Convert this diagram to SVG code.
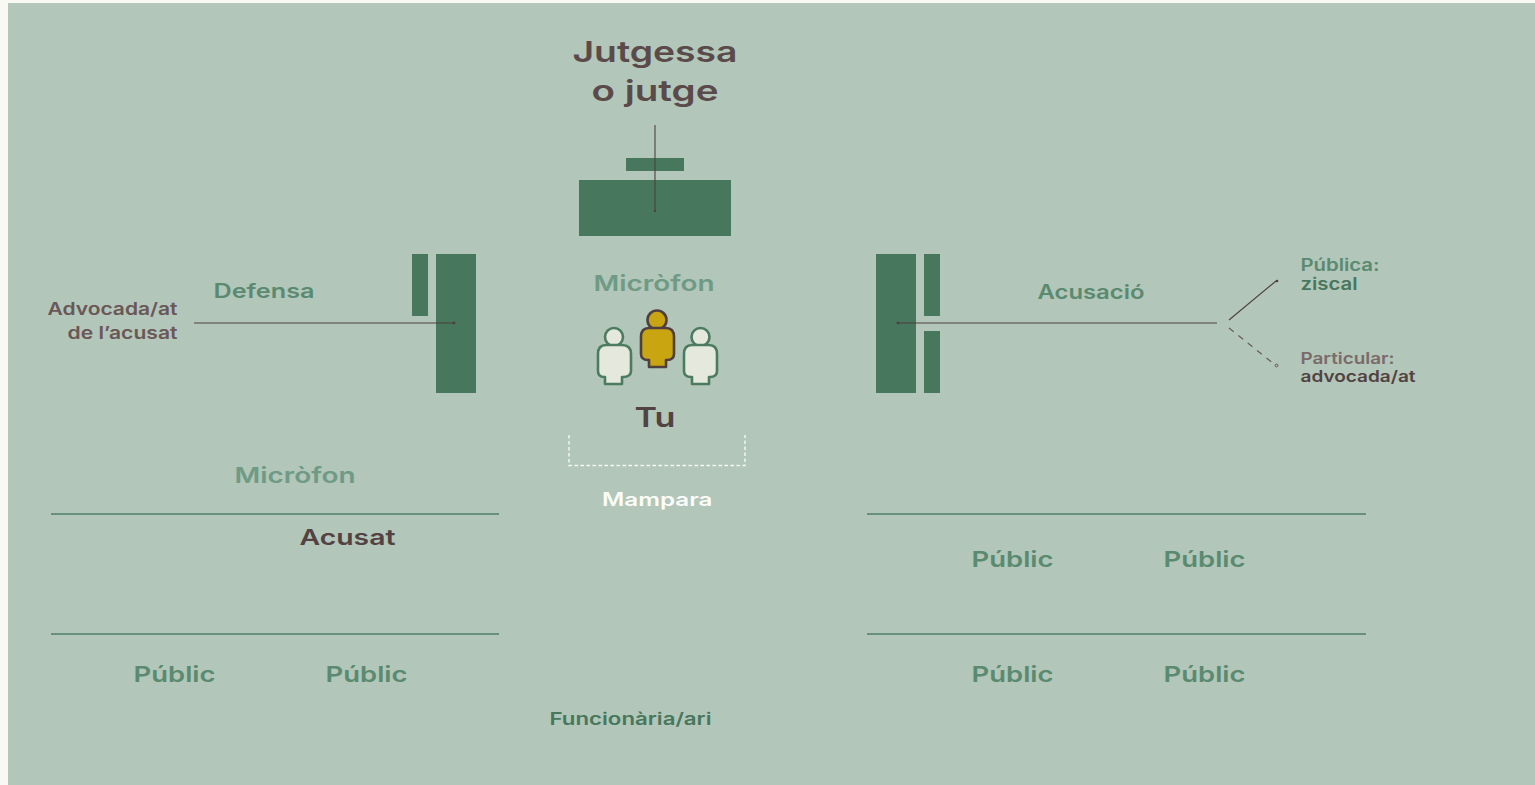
<svg xmlns="http://www.w3.org/2000/svg" width="1535" height="785" viewBox="0 0 1535 785">
<style>
text{font-family:"Inter","Liberation Sans",sans-serif;font-weight:600}
.g{fill:#5a8a70}.lg{fill:#6f9a85}.d{fill:#534242}.m{fill:#6a5757}.dg{fill:#47775c}
.bar{fill:#47775c}
.rule{stroke:#4f8065;stroke-width:1.3;fill:none}
.lead{stroke:#4f4040;stroke-width:1.1;fill:none}
.bust{stroke-width:2.6;stroke-linejoin:round}
</style>
<rect width="1535" height="785" fill="#f8f9f4"/>
<rect x="8" y="3" width="1527" height="782" fill="#b2c6b9"/>
<g id="judge-bench"><rect class="bar" x="626" y="158" width="58" height="13"/><rect class="bar" x="579" y="180" width="152" height="56"/></g>
<g id="defense-desk"><rect class="bar" x="412" y="254" width="16" height="62"/><rect class="bar" x="436" y="254" width="40" height="139"/></g>
<g id="prosecution-desk"><rect class="bar" x="876" y="254" width="40" height="139"/><rect class="bar" x="924" y="254" width="16" height="62"/><rect class="bar" x="924" y="331" width="16" height="62"/></g>
<g id="connectors">
<path class="lead" d="M655 125V211"/>
<circle cx="655" cy="211" r="1.2" fill="#4f4040"/>
<path class="lead" d="M194 323H454"/><circle cx="454" cy="323" r="1.4" fill="#4f4040"/>
<path class="lead" d="M897 323H1217"/><circle cx="898" cy="323" r="1.4" fill="#4f4040"/>
<path class="lead" d="M1229 320L1276 281"/><circle cx="1277" cy="281" r="1.3" fill="#4f4040"/>
<path class="lead" stroke-dasharray="6 6" stroke-width=".8" stroke-opacity=".8" d="M1229 328L1274 364"/><circle cx="1276.500" cy="365.500" r="1.400" fill="none" stroke="#4f4040" stroke-width=".8"/>
<path d="M569 435V465.500H745V435" fill="none" stroke="#f8faf5" stroke-width="1.400" stroke-dasharray="3.500 2.500"/>
<path class="rule" d="M51 514H499M51 634H499M867 514H1366M867 634H1366"/>
</g>
<g id="person-left"><circle class="bust" cx="614" cy="337" r="9" fill="#e5e9dd" stroke="#4c7c60"/><path class="bust" fill="#e5e9dd" stroke="#4c7c60" d="M606 345H622Q631 345 631 354V371Q631 377 623 377H622V384H605V377H604Q598 377 598 371V354Q598 345 606 345Z"/></g>
<g id="person-right"><circle class="bust" cx="700.500" cy="337" r="9" fill="#e5e9dd" stroke="#4c7c60"/><path class="bust" fill="#e5e9dd" stroke="#4c7c60" d="M692 345H709Q717 345 717 354V371Q717 377 710 377H709V384H692V377H691Q684 377 684 371V354Q684 345 692 345Z"/></g>
<g id="person-you"><circle class="bust" cx="657" cy="320" r="9.500" fill="#c9a512" stroke="#4f3f3f"/><path class="bust" fill="#c9a512" stroke="#4f3f3f" d="M649 328H666Q674 328 674 337V354Q674 360 667 360H666V367H649V360H648Q641 360 641 354V337Q641 328 649 328Z"/></g>
<g id="labels">
<text style="fill:#5b4a4a" font-size="29" x="572.500" y="62" textLength="165" lengthAdjust="spacingAndGlyphs">Jutgessa</text>
<text style="fill:#5b4a4a" font-size="29" x="591.500" y="101" textLength="127" lengthAdjust="spacingAndGlyphs">o jutge</text>
<text class="lg" font-size="22" x="593.500" y="291" textLength="121" lengthAdjust="spacingAndGlyphs">Micròfon</text>
<text class="d" font-size="27" x="634.500" y="427" textLength="41" lengthAdjust="spacingAndGlyphs">Tu</text>
<text font-size="18" fill="#fbfcf8" x="602" y="506" textLength="110.500" lengthAdjust="spacingAndGlyphs">Mampara</text>
<text class="g" font-size="20" x="213.500" y="297.500" textLength="101" lengthAdjust="spacingAndGlyphs">Defensa</text>
<text class="m" font-size="17" x="47.500" y="315" textLength="130" lengthAdjust="spacingAndGlyphs">Advocada/at</text>
<text class="m" font-size="17" x="67.500" y="339" textLength="110" lengthAdjust="spacingAndGlyphs">de l’acusat</text>
<text class="g" font-size="20" x="1037.500" y="299" textLength="107" lengthAdjust="spacingAndGlyphs">Acusació</text>
<text class="g" font-size="17" x="1300.500" y="271" textLength="79" lengthAdjust="spacingAndGlyphs">Pública:</text>
<text class="dg" font-size="17" x="1300.500" y="290" textLength="57" lengthAdjust="spacingAndGlyphs">ziscal</text>
<text style="fill:#7a6a6a" font-size="16" x="1300.500" y="364" textLength="94" lengthAdjust="spacingAndGlyphs">Particular:</text>
<text class="d" font-size="16" x="1300.500" y="382" textLength="115" lengthAdjust="spacingAndGlyphs">advocada/at</text>
<text class="lg" font-size="22" x="234.500" y="483" textLength="121" lengthAdjust="spacingAndGlyphs">Micròfon</text>
<text class="d" font-size="22" x="299.500" y="545" textLength="96" lengthAdjust="spacingAndGlyphs">Acusat</text>
<text class="g" font-size="22" x="133.500" y="682" textLength="82" lengthAdjust="spacingAndGlyphs">Públic</text>
<text class="g" font-size="22" x="325.500" y="682" textLength="82" lengthAdjust="spacingAndGlyphs">Públic</text>
<text class="g" font-size="22" x="971.500" y="567" textLength="82" lengthAdjust="spacingAndGlyphs">Públic</text>
<text class="g" font-size="22" x="1163.500" y="567" textLength="82" lengthAdjust="spacingAndGlyphs">Públic</text>
<text class="g" font-size="22" x="971.500" y="682" textLength="82" lengthAdjust="spacingAndGlyphs">Públic</text>
<text class="g" font-size="22" x="1163.500" y="682" textLength="82" lengthAdjust="spacingAndGlyphs">Públic</text>
<text class="dg" font-size="17" x="549.500" y="725" textLength="162" lengthAdjust="spacingAndGlyphs">Funcionària/ari</text>
</g>
</svg>
